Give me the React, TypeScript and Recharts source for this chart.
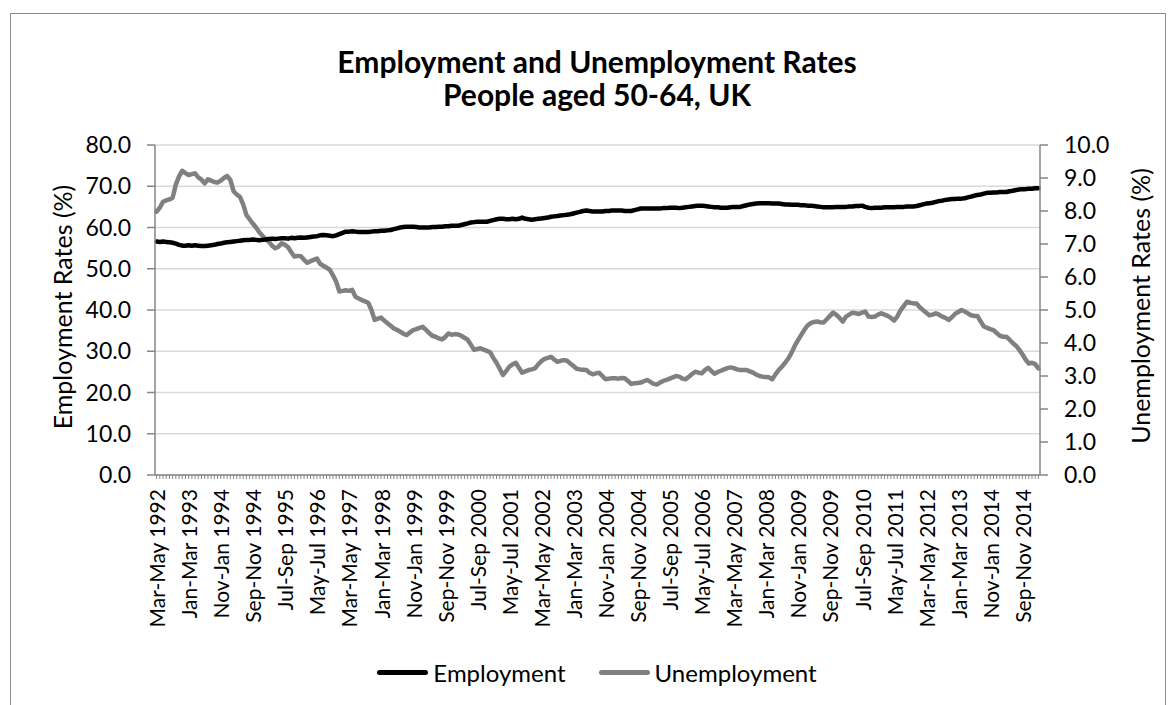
import React from "react";
import { CartesianGrid, Line, LineChart, XAxis, YAxis } from "recharts";

// rolling three-month periods, starting Mar-May 1992
const MONTHS = ["Jan", "Feb", "Mar", "Apr", "May", "Jun", "Jul", "Aug", "Sep", "Oct", "Nov", "Dec"];

const TICK_LABELS = [
  "Mar-May 1992", "Jan-Mar 1993", "Nov-Jan 1994", "Sep-Nov 1994", "Jul-Sep 1995",
  "May-Jul 1996", "Mar-May 1997", "Jan-Mar 1998", "Nov-Jan 1999", "Sep-Nov 1999",
  "Jul-Sep 2000", "May-Jul 2001", "Mar-May 2002", "Jan-Mar 2003", "Nov-Jan 2004",
  "Sep-Nov 2004", "Jul-Sep 2005", "May-Jul 2006", "Mar-May 2007", "Jan-Mar 2008",
  "Nov-Jan 2009", "Sep-Nov 2009", "Jul-Sep 2010", "May-Jul 2011", "Mar-May 2012",
  "Jan-Mar 2013", "Nov-Jan 2014", "Sep-Nov 2014",
];

// employment rate (%), people aged 50-64
const employment = [
  56.6, 56.5, 56.6, 56.5, 56.4, 56.3, 56.1, 55.8, 55.6, 55.6,
  55.7, 55.6, 55.7, 55.6, 55.5, 55.5, 55.6, 55.7, 55.8, 56.0,
  56.1, 56.3, 56.4, 56.5, 56.6, 56.7, 56.8, 56.9, 57.0, 57.0,
  57.1, 57.0, 56.9, 57.0, 57.1, 57.2, 57.3, 57.2, 57.3, 57.4,
  57.4, 57.3, 57.5, 57.4, 57.5, 57.6, 57.5, 57.6, 57.7, 57.8,
  57.9, 58.1, 58.2, 58.1, 58.0, 57.9, 58.1, 58.4, 58.7, 59.0,
  59.0, 59.1, 59.0, 58.9, 58.9, 58.9, 58.9, 59.0, 59.1, 59.1,
  59.2, 59.2, 59.3, 59.4, 59.6, 59.8, 60.0, 60.1, 60.2, 60.2,
  60.2, 60.1, 60.0, 60.0, 60.0, 60.0, 60.1, 60.1, 60.2, 60.2,
  60.3, 60.3, 60.4, 60.4, 60.4, 60.6, 60.8, 61.0, 61.2, 61.3,
  61.4, 61.4, 61.4, 61.4, 61.6, 61.8, 62.0, 62.1, 62.1, 62.0,
  62.0, 62.1, 62.0, 62.1, 62.4, 62.1, 62.0, 61.9, 62.0, 62.1,
  62.2, 62.3, 62.4, 62.6, 62.7, 62.8, 62.9, 63.0, 63.1, 63.2,
  63.4, 63.6, 63.8, 64.0, 64.1, 64.0, 63.9, 63.9, 63.9, 63.9,
  64.0, 64.0, 64.1, 64.1, 64.1, 64.1, 64.0, 64.0, 64.0, 64.2,
  64.4, 64.6, 64.6, 64.6, 64.6, 64.6, 64.6, 64.6, 64.7, 64.7,
  64.8, 64.8, 64.8, 64.7, 64.8, 64.9, 65.0, 65.1, 65.2, 65.3,
  65.3, 65.2, 65.1, 65.0, 64.9, 64.9, 64.8, 64.8, 64.8, 64.9,
  65.0, 65.0, 65.0, 65.2, 65.4, 65.6, 65.7, 65.8, 65.9, 65.9,
  65.9, 65.9, 65.8, 65.8, 65.8, 65.7, 65.6, 65.6, 65.5, 65.5,
  65.5, 65.4, 65.4, 65.3, 65.3, 65.2, 65.1, 65.0, 64.9, 64.9,
  64.9, 64.9, 65.0, 65.0, 65.0, 65.0, 65.1, 65.1, 65.2, 65.2,
  65.3, 65.0, 64.8, 64.7, 64.8, 64.8, 64.8, 64.9, 64.9, 64.9,
  64.9, 65.0, 65.0, 65.0, 65.1, 65.1, 65.1, 65.2, 65.4, 65.6,
  65.8, 65.9, 66.0, 66.2, 66.4, 66.5, 66.7, 66.8, 66.9, 66.9,
  67.0, 67.0, 67.1, 67.3, 67.5, 67.7, 67.9, 68.0, 68.2, 68.4,
  68.4, 68.5, 68.5, 68.6, 68.6, 68.6, 68.8, 68.9, 69.1, 69.2,
  69.3, 69.3, 69.4, 69.4, 69.5, 69.5,
];

// unemployment rate (%), people aged 50-64
const unemployment = [
  7.98, 8.10, 8.28, 8.32, 8.35, 8.40, 8.80, 9.05, 9.22, 9.15,
  9.09, 9.12, 9.14, 9.02, 8.95, 8.84, 8.96, 8.92, 8.88, 8.86,
  8.92, 9.00, 9.06, 8.94, 8.60, 8.50, 8.43, 8.20, 7.88, 7.75,
  7.62, 7.50, 7.36, 7.25, 7.15, 7.07, 6.95, 6.87, 6.92, 7.02,
  6.98, 6.90, 6.75, 6.62, 6.64, 6.63, 6.52, 6.43, 6.48, 6.52,
  6.56, 6.40, 6.34, 6.28, 6.22, 6.05, 5.86, 5.56, 5.58, 5.60,
  5.58, 5.61, 5.40, 5.35, 5.30, 5.26, 5.22, 5.00, 4.70, 4.74,
  4.77, 4.68, 4.60, 4.52, 4.44, 4.40, 4.34, 4.28, 4.24, 4.32,
  4.39, 4.42, 4.46, 4.49, 4.40, 4.30, 4.22, 4.19, 4.14, 4.11,
  4.18, 4.29, 4.25, 4.27, 4.26, 4.22, 4.16, 4.10, 3.95, 3.79,
  3.82, 3.84, 3.80, 3.76, 3.72, 3.55, 3.40, 3.22, 3.03, 3.15,
  3.28, 3.35, 3.40, 3.25, 3.10, 3.14, 3.18, 3.20, 3.23, 3.35,
  3.45, 3.52, 3.55, 3.58, 3.50, 3.43, 3.46, 3.48, 3.46, 3.38,
  3.30, 3.22, 3.20, 3.19, 3.18, 3.10, 3.05, 3.08, 3.10, 3.00,
  2.90, 2.92, 2.93, 2.93, 2.92, 2.94, 2.93, 2.85, 2.76, 2.78,
  2.79, 2.80, 2.84, 2.88, 2.82, 2.76, 2.74, 2.80, 2.85, 2.88,
  2.92, 2.96, 3.00, 2.98, 2.92, 2.90, 2.98, 3.06, 3.13, 3.10,
  3.08, 3.18, 3.25, 3.15, 3.07, 3.12, 3.16, 3.20, 3.24, 3.26,
  3.24, 3.20, 3.18, 3.18, 3.18, 3.14, 3.10, 3.04, 3.00, 2.98,
  2.97, 2.96, 2.90, 3.05, 3.18, 3.28, 3.40, 3.53, 3.70, 3.91,
  4.08, 4.24, 4.40, 4.53, 4.60, 4.64, 4.65, 4.63, 4.62, 4.72,
  4.82, 4.92, 4.85, 4.76, 4.65, 4.80, 4.86, 4.92, 4.90, 4.88,
  4.92, 4.95, 4.80, 4.79, 4.80, 4.86, 4.90, 4.86, 4.82, 4.76,
  4.68, 4.80, 4.99, 5.12, 5.25, 5.22, 5.20, 5.20, 5.08, 5.00,
  4.92, 4.84, 4.86, 4.90, 4.86, 4.80, 4.76, 4.70, 4.78, 4.88,
  4.94, 5.00, 4.96, 4.90, 4.84, 4.82, 4.82, 4.65, 4.50, 4.46,
  4.42, 4.39, 4.30, 4.22, 4.19, 4.19, 4.10, 4.00, 3.92, 3.80,
  3.66, 3.50, 3.38, 3.40, 3.36, 3.23,
];

const EMP_TICKS = [0, 10, 20, 30, 40, 50, 60, 70, 80];
const UNEMP_TICKS = [0, 1, 2, 3, 4, 5, 6, 7, 8, 9, 10];

const periods = employment.map((_, i) => {
  const start = 2 + i;
  const year = 1992 + Math.floor((start + 2) / 12);
  return `${MONTHS[start % 12]}-${MONTHS[(start + 2) % 12]} ${year}`;
});

const data = periods.map((period, i) => ({
  period,
  employment: employment[i],
  unemployment: unemployment[i],
}));

const FONT = "Lato, 'Open Sans', sans-serif";
const AXIS = "#868686";

function PeriodTick(props: any) {
  const { x, y, payload } = props;
  if (!TICK_LABELS.includes(payload.value)) return <g />;
  const ty = y + 8;
  return (
    <text
      x={x}
      y={ty}
      transform={`rotate(-90, ${x}, ${ty})`}
      textAnchor="end"
      dominantBaseline="central"
      fontSize={21}
      fill="#000"
    >
      {payload.value}
    </text>
  );
}

export default function App() {
  return (
    <div
      style={{
        position: "absolute",
        left: 0,
        top: 0,
        width: 1171,
        height: 705,
        overflow: "hidden",
        background: "#fff",
        fontFamily: FONT,
        color: "#000",
      }}
    >
      <div
        style={{
          position: "absolute",
          left: 10,
          top: 13,
          width: 1154,
          height: 760,
          border: "1.5px solid #8c8c8c",
        }}
      />
      <div
        style={{
          position: "absolute",
          left: 247,
          width: 700,
          top: 45,
          textAlign: "center",
          fontWeight: 700,
          fontSize: 30,
          lineHeight: "33px",
        }}
      >
        Employment and Unemployment Rates
        <br />
        People aged 50-64, UK
      </div>

      <LineChart
        width={1171}
        height={705}
        data={data}
        margin={{ top: 145, right: 0, bottom: 0, left: 0 }}
        style={{ position: "absolute", left: 0, top: 0 }}
      >
        <CartesianGrid vertical={false} stroke="#d9d9d9" strokeWidth={1.5} yAxisId="emp" />
        <XAxis
          dataKey="period"
          height={230}
          interval={0}
          tickSize={4}
          padding={{ left: 1.6, right: 1.6 }}
          axisLine={{ stroke: AXIS, strokeWidth: 1.5 }}
          tickLine={{ stroke: AXIS }}
          tick={<PeriodTick />}
        />
        <YAxis
          yAxisId="emp"
          orientation="left"
          width={155}
          domain={[0, 80]}
          ticks={EMP_TICKS}
          tickFormatter={(v: number) => v.toFixed(1)}
          tickSize={8}
          tickMargin={16}
          axisLine={{ stroke: AXIS, strokeWidth: 1.5 }}
          tickLine={{ stroke: AXIS, strokeWidth: 1.5 }}
          tick={{ fill: "#000", fontSize: 23 }}
        />
        <YAxis
          yAxisId="unemp"
          orientation="right"
          width={131}
          domain={[0, 10]}
          ticks={UNEMP_TICKS}
          tickFormatter={(v: number) => v.toFixed(1)}
          tickSize={8}
          tickMargin={16}
          axisLine={{ stroke: AXIS, strokeWidth: 1.5 }}
          tickLine={{ stroke: AXIS, strokeWidth: 1.5 }}
          tick={{ fill: "#000", fontSize: 23 }}
        />
        <Line
          yAxisId="unemp"
          type="linear"
          dataKey="unemployment"
          stroke="#808080"
          strokeWidth={4.5}
          strokeLinejoin="round"
          strokeLinecap="round"
          dot={false}
          isAnimationActive={false}
        />
        <Line
          yAxisId="emp"
          type="linear"
          dataKey="employment"
          stroke="#000"
          strokeWidth={4.5}
          strokeLinejoin="round"
          strokeLinecap="round"
          dot={false}
          isAnimationActive={false}
        />
      </LineChart>

      <div
        style={{
          position: "absolute",
          left: 62,
          top: 307,
          transform: "translate(-50%, -50%) rotate(-90deg)",
          fontSize: 25,
          whiteSpace: "nowrap",
        }}
      >
        Employment Rates (%)
      </div>
      <div
        style={{
          position: "absolute",
          left: 1140,
          top: 306,
          transform: "translate(-50%, -50%) rotate(-90deg)",
          fontSize: 25,
          whiteSpace: "nowrap",
        }}
      >
        Unemployment Rates (%)
      </div>

      <div
        style={{
          position: "absolute",
          left: 297,
          width: 600,
          top: 658,
          display: "flex",
          justifyContent: "center",
          alignItems: "center",
          fontSize: 24,
        }}
      >
        <span style={{ width: 51, height: 5, borderRadius: 3, background: "#000", marginRight: 5 }} />
        <span>Employment</span>
        <span style={{ width: 51, height: 5, borderRadius: 3, background: "#808080", marginLeft: 33, marginRight: 5 }} />
        <span>Unemployment</span>
      </div>
    </div>
  );
}
